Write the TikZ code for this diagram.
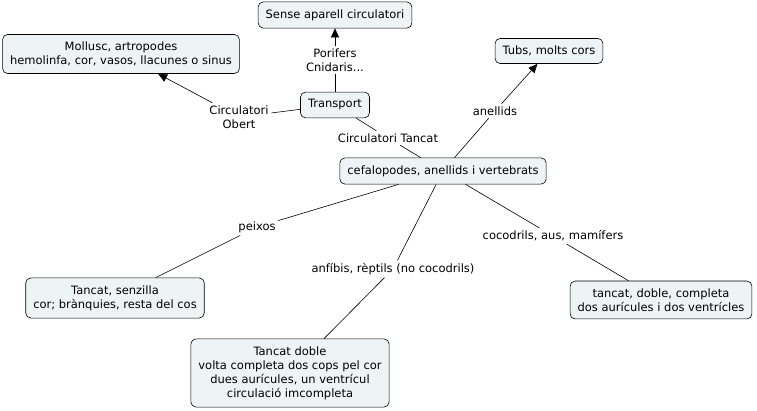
\documentclass[tikz,border=0pt]{standalone}
\usepackage{fontspec}
\setmainfont{DejaVu Sans}
\usetikzlibrary{arrows.meta}
\usetikzlibrary{positioning}
\definecolor{boxfill}{HTML}{EEF3F5}

\begin{document}
\begin{tikzpicture}[x=1pt ,y=-1pt ,auto ,on grid ,semithick ,
    font=\fontsize{11.5}{14}\selectfont ,
    concept/.style ={ rectangle ,rounded corners =5pt ,fill = boxfill ,
    draw, align=center ,inner xsep =7.5pt ,inner ysep =7.5pt},
    link/.style ={ align=center ,inner sep =2.5pt},
    arr/.style ={-{Triangle[width=8pt,length=9pt]}}]
    \useasboundingbox (0,0) rectangle (757,411);
    \node[concept] (T) at (335,105) {Transport};
    \node[concept] (S) [above =90pt of T] {Sense aparell circulatori};
    \node[link] (lP) [above =45pt of T] {Porifers\\Cnidaris...};
    \node[concept] (M) [above left =51pt and 214pt of T] {Mollusc, artropodes\\hemolinfa, cor, vasos, llacunes o sinus};
    \node[link] (lO) [below left =12pt and 96pt of T] {Circulatori\\Obert};
    \node[link] (lT) [below right =33pt and 53pt of T] {Circulatori Tancat};
    \node[concept] (C) [below right =66pt and 108pt of T] {cefalopodes, anellids i vertebrats};
    \node[link] (lA) [above right =60pt and 52pt of C] {anellids};
    \node[concept] (U) [above right =120pt and 106pt of C] {Tubs, molts cors};
    \node[link] (lX) [below left =56pt and 186pt of C] {peixos};
    \node[concept] (P) [below left =127pt and 328pt of C] {Tancat, senzilla\\cor; brànquies, resta del cos};
    \node[link] (lR) [below left =98pt and 50pt of C] {anfíbis, rèptils (no cocodrils)};
    \node[concept] (D) [below left =202pt and 153pt of C] {Tancat doble\\volta completa dos cops pel cor\\dues aurícules, un ventrícul\\circulació imcompleta};
    \node[link] (lM) [below right =65pt and 110pt of C] {cocodrils, aus, mamífers};
    \node[concept] (Q) [below right =129pt and 218pt of C] {tancat, doble, completa\\dos aurícules i dos ventrícles};

    \path (T) edge (lP) (lP) edge[arr] (S);
    \path (T) edge (lO) (lO) edge[arr] (M);
    \path (T) edge (lT) (lT) edge (C);
    \path (C) edge (lA) (lA) edge[arr] (U);
    \path (C) edge (lX) (lX) edge (P);
    \path (C) edge (lR) (lR) edge (D);
    \path (C) edge (lM) (lM) edge (Q);
\end{tikzpicture}
\end{document}
